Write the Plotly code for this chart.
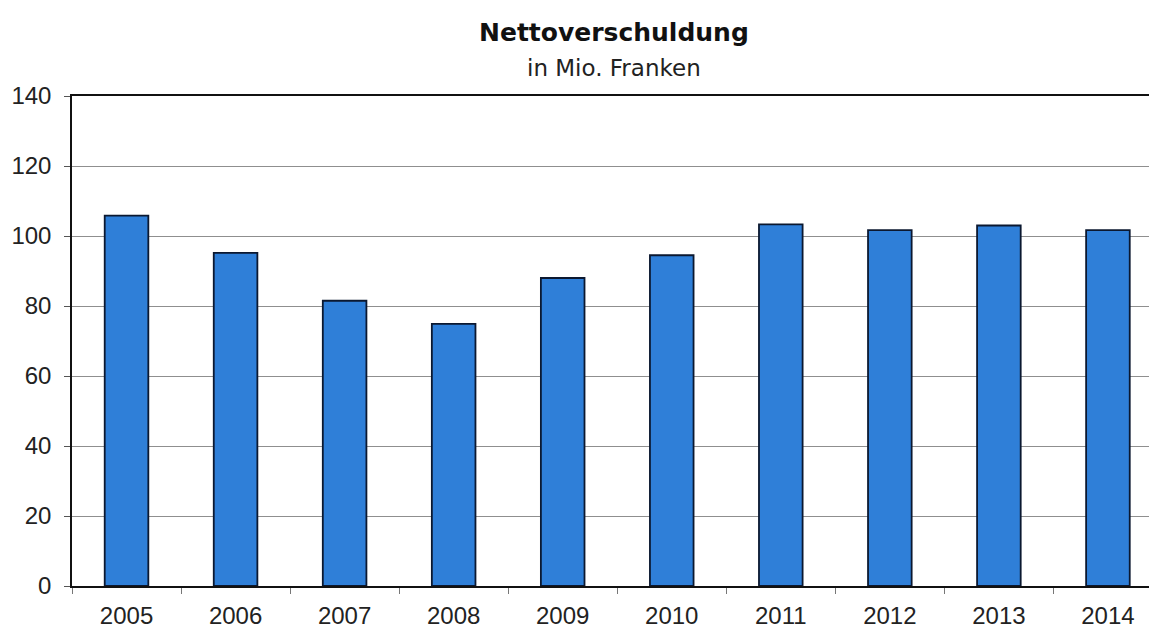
import plotly.graph_objects as go

years = ["2005", "2006", "2007", "2008", "2009", "2010", "2011", "2012", "2013", "2014"]
values = [105.8, 95.2, 81.5, 74.9, 88.0, 94.5, 103.3, 101.7, 103.0, 101.7]
y_ticks = [0, 20, 40, 60, 80, 100, 120, 140]

# page body has an 8px margin; compensate so the plot lands where the reference has it
OFF = 8
W, H = 1157 - OFF, 631 - OFF
L, T, B, R = 72 - OFF, 96 - OFF, 45, 0
plot_w = W - L - R
plot_h = H - T - B

fig = go.Figure(
    go.Bar(
        x=years,
        y=values,
        marker=dict(color="#2f7fd8", line=dict(color="#0b1830", width=1.8)),
    )
)

fig.update_layout(
    width=W,
    height=H,
    margin=dict(l=L, r=R, t=T, b=B),
    paper_bgcolor="white",
    plot_bgcolor="white",
    bargap=0.6,
    showlegend=False,
    font=dict(family="Liberation Sans, Arial, sans-serif", color="#222222"),
)


def px_to_paper(x_abs, y_abs):
    return ((x_abs - OFF - L) / plot_w, 1 + (T - (y_abs - OFF)) / plot_h)


tx, ty = px_to_paper(614, 32)
fig.add_annotation(text="<b>Nettoverschuldung</b>", xref="paper", yref="paper",
                   x=tx, y=ty, showarrow=False,
                   font=dict(size=25, color="#111111", family="DejaVu Sans, sans-serif"),
                   xanchor="center", yanchor="middle")
sx, sy = px_to_paper(614, 68)
fig.add_annotation(text="in Mio. Franken", xref="paper", yref="paper",
                   x=sx, y=sy, showarrow=False,
                   font=dict(size=23, color="#222222", family="DejaVu Sans, sans-serif"),
                   xanchor="center", yanchor="middle")

fig.update_xaxes(
    type="category",
    range=[-0.5, 9.45],
    automargin=False,
    showline=True, linecolor="#111111", linewidth=2, mirror=True,
    ticks="outside", tickson="boundaries", ticklen=6, tickcolor="#777777",
    tickfont=dict(size=24, color="#222222"),
    ticklabelstandoff=7,
    showgrid=False,
)
fig.update_yaxes(
    range=[0, 140],
    tickvals=y_ticks,
    automargin=False,
    showline=True, linecolor="#111111", linewidth=1.5,
    ticks="outside", ticklen=6, tickcolor="#555555",
    tickfont=dict(size=24, color="#222222"),
    ticklabelstandoff=8,
    showgrid=True, gridcolor="#8f8f8f", gridwidth=1,
    zeroline=False,
)

fig.write_html("out.html")
